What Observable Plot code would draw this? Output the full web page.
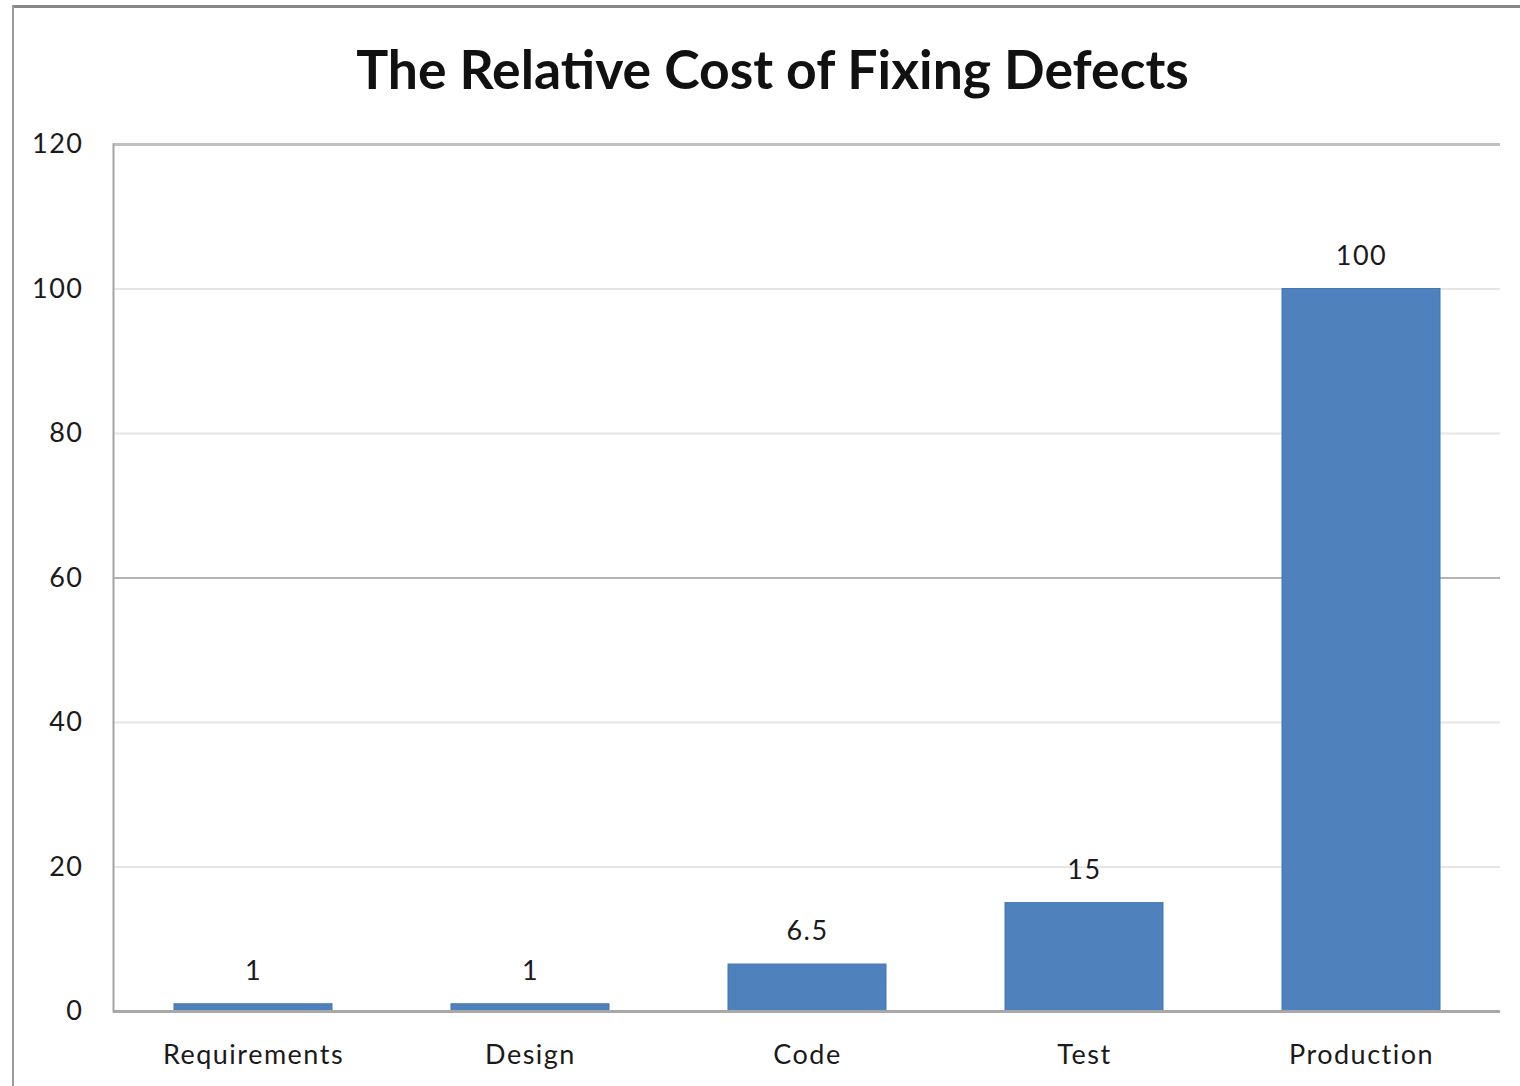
<!DOCTYPE html>
<html>
<head>
<meta charset="utf-8">
<script src="https://cdn.jsdelivr.net/npm/d3@7"></script>
<script src="https://cdn.jsdelivr.net/npm/@observablehq/plot@0.6"></script>
<style>
  html, body { margin: 0; padding: 0; background: #fff; }
  #wrap { position: relative; width: 1520px; height: 1086px; overflow: hidden; background: #fff; }
  #topline { position: absolute; left: 12px; top: 5px; width: 1508px; height: 3px; background: #878787; z-index: 2; }
  #leftline { position: absolute; left: 12px; top: 5px; width: 2px; height: 1081px; background: #9a9a9a; z-index: 2; }
  #title { position: absolute; top: 36px; left: 0; width: 1545px; text-align: center;
           font-family: Lato, "Open Sans", sans-serif; font-weight: bold; font-size: 53.5px; color: #111; }
  #chart { position: absolute; left: 0; top: 120px; z-index: 1; }
</style>
</head>
<body>
<div id="wrap">
  <div id="title">The Relative Cost of Fixing Defects</div>
  <div id="chart"></div>
  <div id="topline"></div>
  <div id="leftline"></div>
</div>
<script>
const categories = ["Requirements", "Design", "Code", "Test", "Production"];
const values = [1, 1, 6.5, 15, 100];
const valueLabels = ["1", "1", "6.5", "15", "100"];
const yTicks = [0, 20, 40, 60, 80, 100, 120];
const lightGrid = [20, 40, 80, 100];
const darkGrid = [60];

const data = categories.map((c, i) => ({category: c, value: values[i], label: valueLabels[i]}));
const font = "Lato, 'Open Sans', sans-serif";

const chart = Plot.plot({
  width: 1520,
  height: 966,
  marginLeft: 113,
  marginRight: 20,
  marginTop: 24,
  marginBottom: 75,
  style: {fontFamily: font, fontSize: "27px", color: "#1a1a1a", background: "transparent", letterSpacing: "1.5px"},
  x: {domain: categories, paddingInner: 0.43, paddingOuter: 0.215, label: null},
  y: {domain: [0, 120], label: null},
  marks: [
    Plot.ruleY(lightGrid, {stroke: "#e6e6e6", strokeWidth: 2}),
    Plot.ruleY(darkGrid, {stroke: "#b4b4b4", strokeWidth: 2}),
    Plot.ruleY([120], {stroke: "#c0c0c0", strokeWidth: 3}),
    Plot.barY(data, {x: "category", y: "value", fill: "#4f81bd", stroke: "#4475b3", strokeWidth: 1}),
    Plot.ruleY([0], {stroke: "#a8a8a8", strokeWidth: 3}),
    Plot.frame({anchor: "left", stroke: "#a4a4a4", strokeWidth: 2}),
    Plot.text(data, {x: "category", y: "value", text: "label", dy: -33, fontSize: 27, fill: "#1a1a1a"}),
    Plot.axisY({ticks: yTicks, tickSize: 0, tickPadding: 30, fontSize: 27, tickFormat: d => String(d)}),
    Plot.axisX({tickSize: 0, tickPadding: 33, fontSize: 27})
  ]
});
document.getElementById("chart").appendChild(chart);
</script>
</body>
</html>
